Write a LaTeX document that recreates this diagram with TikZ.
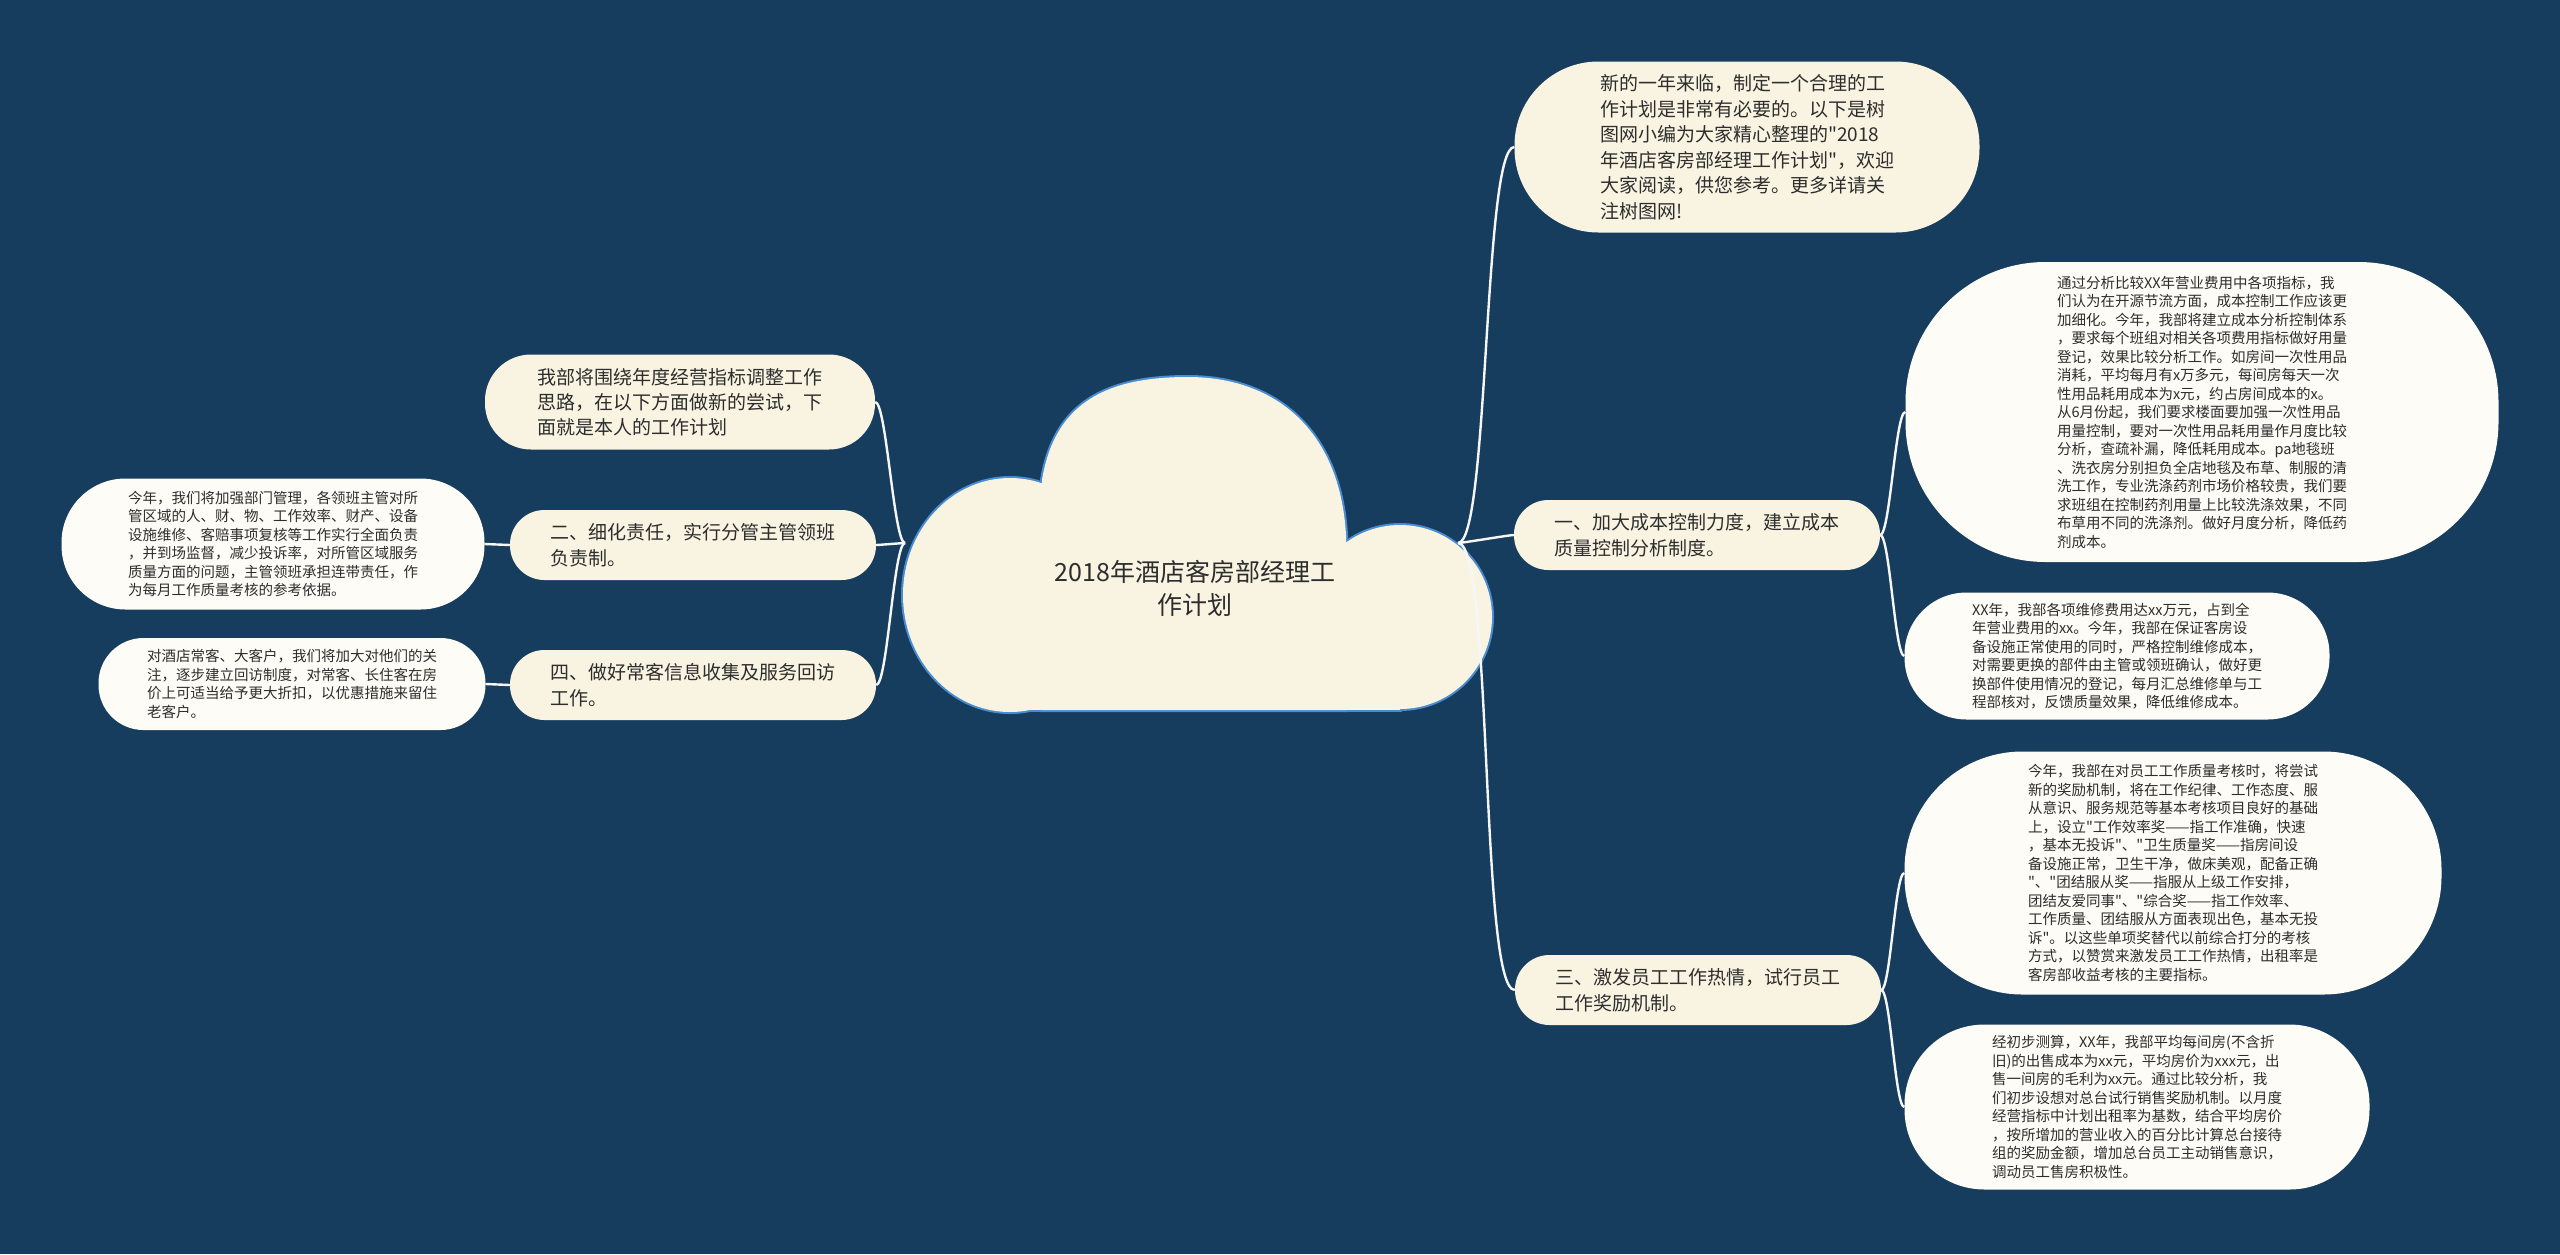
\documentclass[tikz,border=0pt]{standalone}
\usepackage{fontspec}
\newfontfamily\cjk{Noto Sans CJK SC}
\usetikzlibrary{positioning}
\definecolor{bgc}{RGB}{23,61,94}
\definecolor{nodec}{RGB}{249,244,226}
\definecolor{leafc}{RGB}{253,252,246}
\definecolor{textc}{RGB}{45,45,45}
\definecolor{cloudc}{RGB}{74,140,210}
\definecolor{linkc}{RGB}{246,246,246}
\newcommand{\cloudparts}[1]{%
  \path[#1] (1010,595) ellipse [x radius=107,y radius=117];
  \path[#1] (1400,617) circle [radius=92];
  \path[#1] (1042,480) .. controls (1055,400) and (1110,377) .. (1188,377)
    .. controls (1275,377) and (1340,430) .. (1346,535) -- (1346,710) -- (1042,710) -- cycle;
  \path[#1] (1010,595) rectangle (1400,710);}

\begin{document}
\begin{tikzpicture}[x=1pt,y=-1pt,
  link/.style={draw=linkc,line width=2.4pt,looseness=0.2},
  topic/.style={fill=nodec,text=textc,rounded corners=34.5pt,minimum width=366pt,
    minimum height=70pt,inner sep=0pt,align=left,font=\cjk\fontsize{19}{26}\selectfont},
  leaf/.style={fill=leafc,text=textc,inner sep=0pt,align=left,
    font=\cjk\fontsize{14.5}{18.5}\selectfont}]
\fill[bgc] (0,0) rectangle (2560,1254);
\useasboundingbox (0,0) rectangle (2560,1254);

% cloud
\cloudparts{draw=cloudc,line width=4pt}
\cloudparts{fill=nodec}
\node[text=textc,align=center,font=\cjk\fontsize{25}{33}\selectfont] (root) at (1195,588)
  {2018年酒店客房部经理工\\作计划};
\coordinate (cloudL) at (905,543);
\coordinate (cloudR) at (1458,543);

% right side
\node[topic,minimum width=465pt,minimum height=171pt,rounded corners=84pt,
  font=\cjk\fontsize{19}{25.5}\selectfont] (intro) at (1747,147)
  {新的一年来临，制定一个合理的工\\作计划是非常有必要的。以下是树\\图网小编为大家精心整理的"2018\\年酒店客房部经理工作计划"，欢迎\\大家阅读，供您参考。更多详请关\\注树图网!};
\node[topic] (cost) at (1697,535) {一、加大成本控制力度，建立成本\\质量控制分析制度。};
\node[leaf,minimum width=593pt,minimum height=300pt,rounded corners=140pt] (costA) at (2202,412)
  {通过分析比较XX年营业费用中各项指标，我\\们认为在开源节流方面，成本控制工作应该更\\加细化。今年，我部将建立成本分析控制体系\\，要求每个班组对相关各项费用指标做好用量\\登记，效果比较分析工作。如房间一次性用品\\消耗，平均每月有x万多元，每间房每天一次\\性用品耗用成本为x元，约占房间成本的x。\\从6月份起，我们要求楼面要加强一次性用品\\用量控制，要对一次性用品耗用量作月度比较\\分析，查疏补漏，降低耗用成本。pa地毯班\\、洗衣房分别担负全店地毯及布草、制服的清\\洗工作，专业洗涤药剂市场价格较贵，我们要\\求班组在控制药剂用量上比较洗涤效果，不同\\布草用不同的洗涤剂。做好月度分析，降低药\\剂成本。};
\node[leaf,minimum width=425pt,minimum height=127pt,rounded corners=62pt] (costB) at (2117,656)
  {XX年，我部各项维修费用达xx万元，占到全\\年营业费用的xx。今年，我部在保证客房设\\备设施正常使用的同时，严格控制维修成本，\\对需要更换的部件由主管或领班确认，做好更\\换部件使用情况的登记，每月汇总维修单与工\\程部核对，反馈质量效果，降低维修成本。};
\node[topic] (bonus) at (1698,990) {三、激发员工工作热情，试行员工\\工作奖励机制。};
\node[leaf,minimum width=537pt,minimum height=243pt,rounded corners=118pt] (bonusA) at (2173,873)
  {今年，我部在对员工工作质量考核时，将尝试\\新的奖励机制，将在工作纪律、工作态度、服\\从意识、服务规范等基本考核项目良好的基础\\上，设立"工作效率奖——指工作准确，快速\\，基本无投诉"、"卫生质量奖——指房间设\\备设施正常，卫生干净，做床美观，配备正确\\"、"团结服从奖——指服从上级工作安排，\\团结友爱同事"、"综合奖——指工作效率、\\工作质量、团结服从方面表现出色，基本无投\\诉"。以这些单项奖替代以前综合打分的考核\\方式，以赞赏来激发员工工作热情，出租率是\\客房部收益考核的主要指标。};
\node[leaf,minimum width=465pt,minimum height=165pt,rounded corners=80pt] (bonusB) at (2137,1107)
  {经初步测算，XX年，我部平均每间房(不含折\\旧)的出售成本为xx元，平均房价为xxx元，出\\售一间房的毛利为xx元。通过比较分析，我\\们初步设想对总台试行销售奖励机制。以月度\\经营指标中计划出租率为基数，结合平均房价\\，按所增加的营业收入的百分比计算总台接待\\组的奖励金额，增加总台员工主动销售意识，\\调动员工售房积极性。};

% left side
\node[topic,minimum width=390pt,minimum height=95pt,rounded corners=46pt,
  font=\cjk\fontsize{19}{25}\selectfont] (plan) at (680,402)
  {我部将围绕年度经营指标调整工作\\思路，在以下方面做新的尝试，下\\面就是本人的工作计划};
\node[topic] (duty) at (693,545) {二、细化责任，实行分管主管领班\\负责制。};
\node[leaf,minimum width=423pt,minimum height=131pt,rounded corners=64pt] (dutyA) at (273,544)
  {今年，我们将加强部门管理，各领班主管对所\\管区域的人、财、物、工作效率、财产、设备\\设施维修、客赔事项复核等工作实行全面负责\\，并到场监督，减少投诉率，对所管区域服务\\质量方面的问题，主管领班承担连带责任，作\\为每月工作质量考核的参考依据。};
\node[topic] (guest) at (693,685) {四、做好常客信息收集及服务回访\\工作。};
\node[leaf,minimum width=387pt,minimum height=92pt,rounded corners=45pt] (guestA) at (292,684)
  {对酒店常客、大客户，我们将加大对他们的关\\注，逐步建立回访制度，对常客、长住客在房\\价上可适当给予更大折扣，以优惠措施来留住\\老客户。};

\draw[link] (cloudR) to[out=0,in=180] (intro.west);
\draw[link] (cloudR) to[out=0,in=180] (cost.west);
\draw[link] (cloudR) to[out=0,in=180] (bonus.west);
\draw[link] (cost.east) to[out=0,in=180] (costA.west);
\draw[link] (cost.east) to[out=0,in=180] (costB.west);
\draw[link] (bonus.east) to[out=0,in=180] (bonusA.west);
\draw[link] (bonus.east) to[out=0,in=180] (bonusB.west);
\draw[link] (cloudL) to[out=180,in=0] (plan.east);
\draw[link] (cloudL) to[out=180,in=0] (duty.east);
\draw[link] (cloudL) to[out=180,in=0] (guest.east);
\draw[link] (duty.west) -- (dutyA.east);
\draw[link] (guest.west) -- (guestA.east);
\end{tikzpicture}
\end{document}
